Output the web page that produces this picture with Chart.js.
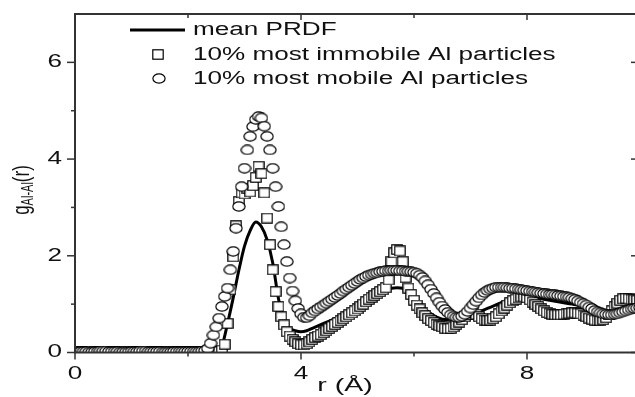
<!DOCTYPE html>
<html><head><meta charset="utf-8">
<script src="https://cdn.jsdelivr.net/npm/chart.js@4.4.1/dist/chart.umd.min.js"></script>
<style>html,body{margin:0;padding:0;background:#fff;overflow:hidden;width:635px;height:397px}canvas{display:block}</style>
</head><body>
<canvas id="c" width="650" height="397" style="width:650px;height:397px"></canvas>
<script>
// r grid of the marker series (Å), one row per 1 Å
const rMarkers = [
0.00,0.05,0.10,0.15,0.20,0.25,0.30,0.35,0.40,0.45,0.50,0.55,0.60,0.65,0.70,0.75,0.80,0.85,0.90,0.95,
1.00,1.05,1.10,1.15,1.20,1.25,1.30,1.35,1.40,1.45,1.50,1.55,1.60,1.65,1.70,1.75,1.80,1.85,1.90,1.95,
2.00,2.05,2.10,2.15,2.20,2.25,2.30,2.35,2.40,2.45,2.50,2.55,2.60,2.65,2.70,2.75,2.80,2.85,2.90,2.95,
3.00,3.05,3.10,3.15,3.20,3.25,3.30,3.35,3.40,3.45,3.50,3.55,3.60,3.65,3.70,3.75,3.80,3.85,3.90,3.95,
4.00,4.05,4.10,4.15,4.20,4.25,4.30,4.35,4.40,4.45,4.50,4.55,4.60,4.65,4.70,4.75,4.80,4.85,4.90,4.95,
5.00,5.05,5.10,5.15,5.20,5.25,5.30,5.35,5.40,5.45,5.50,5.55,5.60,5.65,5.70,5.75,5.80,5.85,5.90,5.95,
6.00,6.05,6.10,6.15,6.20,6.25,6.30,6.35,6.40,6.45,6.50,6.55,6.60,6.65,6.70,6.75,6.80,6.85,6.90,6.95,
7.00,7.05,7.10,7.15,7.20,7.25,7.30,7.35,7.40,7.45,7.50,7.55,7.60,7.65,7.70,7.75,7.80,7.85,7.90,7.95,
8.00,8.05,8.10,8.15,8.20,8.25,8.30,8.35,8.40,8.45,8.50,8.55,8.60,8.65,8.70,8.75,8.80,8.85,8.90,8.95,
9.00,9.05,9.10,9.15,9.20,9.25,9.30,9.35,9.40,9.45,9.50,9.55,9.60,9.65,9.70,9.75,9.80,9.85,9.90,9.95,10.00
];
// 10% most immobile Al particles (squares)
const immobile = [
0.02,0.02,0.01,0.01,0.02,0.02,0.03,0.02,0.02,0.01,0.01,0.02,0.02,0.02,0.03,0.03,0.02,0.01,0.01,0.02,
0.02,0.03,0.02,0.02,0.01,0.01,0.02,0.02,0.03,0.02,0.02,0.02,0.01,0.01,0.02,0.02,0.02,0.03,0.02,0.02,
0.02,0.02,0.01,0.01,0.02,0.02,0.02,0.01,0.01,0.02,0.02,0.02,0.05,0.17,0.60,1.30,1.98,2.62,3.12,3.30,
3.28,3.40,3.32,3.45,3.62,3.85,3.70,3.30,2.78,2.23,1.71,1.26,0.95,0.74,0.57,0.43,0.34,0.27,0.22,0.18,
0.16,0.16,0.18,0.22,0.27,0.31,0.34,0.37,0.41,0.45,0.50,0.54,0.58,0.62,0.66,0.70,0.74,0.78,0.82,0.86,
0.90,0.95,1.00,1.05,1.10,1.14,1.18,1.22,1.26,1.30,1.34,1.50,1.88,2.06,2.13,2.10,1.88,1.55,1.33,1.20,
1.08,0.98,0.90,0.82,0.76,0.70,0.66,0.62,0.58,0.55,0.53,0.50,0.49,0.50,0.53,0.58,0.63,0.68,0.74,0.79,
0.82,0.82,0.79,0.74,0.70,0.67,0.66,0.67,0.70,0.74,0.80,0.86,0.92,0.98,1.03,1.07,1.10,1.13,1.15,1.15,
1.13,1.09,1.04,0.99,0.95,0.90,0.86,0.83,0.81,0.79,0.78,0.78,0.78,0.79,0.80,0.81,0.82,0.82,0.81,0.80,
0.77,0.74,0.71,0.69,0.67,0.66,0.66,0.68,0.72,0.78,0.86,0.95,1.02,1.08,1.11,1.12,1.11,1.10,1.09,1.08,1.08
];
// 10% most mobile Al particles (circles)
const mobile = [
0.01,0.01,0.02,0.02,0.02,0.01,0.01,0.02,0.02,0.03,0.03,0.03,0.02,0.02,0.02,0.02,0.01,0.01,0.01,0.01,
0.02,0.02,0.02,0.03,0.03,0.03,0.02,0.02,0.02,0.02,0.02,0.01,0.01,0.01,0.01,0.02,0.02,0.02,0.02,0.02,
0.02,0.02,0.02,0.02,0.02,0.03,0.04,0.08,0.19,0.36,0.53,0.71,0.95,1.16,1.33,1.71,2.09,2.57,3.02,3.43,
3.81,4.19,4.47,4.67,4.82,4.88,4.85,4.68,4.47,4.19,3.81,3.43,3.02,2.60,2.23,1.88,1.54,1.27,1.07,0.91,
0.80,0.73,0.72,0.76,0.82,0.86,0.90,0.94,0.98,1.02,1.06,1.10,1.14,1.18,1.22,1.27,1.31,1.35,1.39,1.43,
1.47,1.51,1.54,1.57,1.60,1.62,1.64,1.65,1.67,1.68,1.69,1.69,1.70,1.70,1.70,1.69,1.69,1.68,1.68,1.67,
1.66,1.64,1.60,1.55,1.48,1.40,1.31,1.22,1.13,1.04,0.96,0.89,0.83,0.78,0.75,0.73,0.73,0.75,0.79,0.85,
0.92,0.99,1.06,1.13,1.19,1.24,1.28,1.31,1.33,1.35,1.35,1.35,1.35,1.34,1.33,1.33,1.32,1.31,1.30,1.29,
1.28,1.27,1.26,1.25,1.24,1.23,1.22,1.21,1.20,1.20,1.19,1.18,1.17,1.16,1.15,1.14,1.12,1.10,1.07,1.04,
1.01,0.98,0.94,0.91,0.87,0.84,0.82,0.80,0.79,0.78,0.78,0.79,0.80,0.82,0.84,0.86,0.88,0.90,0.91,0.92,0.93
];
// mean PRDF (line), r grid every 0.1 Å
const rLine = [
0.0,0.1,0.2,0.3,0.4,0.5,0.6,0.7,0.8,0.9,
1.0,1.1,1.2,1.3,1.4,1.5,1.6,1.7,1.8,1.9,
2.0,2.1,2.2,2.3,2.4,2.5,2.6,2.7,2.8,2.9,
3.0,3.1,3.2,3.3,3.4,3.5,3.6,3.7,3.8,3.9,
4.0,4.1,4.2,4.3,4.4,4.5,4.6,4.7,4.8,4.9,
5.0,5.1,5.2,5.3,5.4,5.5,5.6,5.7,5.8,5.9,
6.0,6.1,6.2,6.3,6.4,6.5,6.6,6.7,6.8,6.9,
7.0,7.1,7.2,7.3,7.4,7.5,7.6,7.7,7.8,7.9,
8.0,8.1,8.2,8.3,8.4,8.5,8.6,8.7,8.8,8.9,
9.0,9.1,9.2,9.3,9.4,9.5,9.6,9.7,9.8,9.9,10.0
];
const meanPRDF = [
0,0,0,0,0,0,0,0,0,0,
0,0,0,0,0,0,0,0,0,0,
0,0,0,0,0,0.01,0.13,0.60,1.13,1.70,
2.20,2.52,2.70,2.60,2.33,1.85,1.12,0.64,0.50,0.45,
0.43,0.45,0.50,0.55,0.60,0.65,0.70,0.75,0.82,0.89,
0.97,1.06,1.15,1.22,1.27,1.31,1.33,1.34,1.33,1.28,
1.17,1.02,0.90,0.80,0.73,0.69,0.68,0.69,0.71,0.74,
0.77,0.81,0.86,0.91,0.96,1.01,1.06,1.10,1.13,1.15,
1.15,1.14,1.12,1.10,1.08,1.06,1.04,1.02,1.00,0.98,
0.95,0.92,0.88,0.85,0.84,0.85,0.88,0.92,0.95,0.97,0.98
];
const xMajorTicks = [0, 4, 8];
const xMinorTicks = [2, 6, 10];
const yMajorTicks = [0, 2, 4, 6];
const yMinorTicks = [1, 3, 5];
const seriesNames = ['mean PRDF', '10% most immobile Al particles', '10% most mobile Al particles'];
const xTitle = 'r (Å)';
const yTitleMain = 'g', yTitleSub = 'Al-Al', yTitleTail = '(r)';

const FONT = '"Liberation Sans", Arial, sans-serif';
const SX = 1.45;

function makeSquare() {
  const c = document.createElement('canvas'); c.width = 12; c.height = 11;
  const g = c.getContext('2d');
  g.fillStyle = '#fff'; g.strokeStyle = '#000'; g.lineWidth = 1.2;
  g.fillRect(0.8, 0.8, 10.4, 9.4); g.strokeRect(0.8, 0.8, 10.4, 9.4);
  return c;
}
function makeEllipse() {
  const c = document.createElement('canvas'); c.width = 14; c.height = 11;
  const g = c.getContext('2d');
  g.fillStyle = '#fff'; g.strokeStyle = '#000'; g.lineWidth = 1.2;
  g.beginPath(); g.ellipse(7, 5.5, 6.1, 4.6, 0, 0, Math.PI * 2); g.fill(); g.stroke();
  return c;
}
const squareImg = makeSquare();
const circleImg = makeEllipse();

function sText(ctx, txt, x, y, size, align, base, sx) {
  ctx.save();
  ctx.translate(x, y); ctx.scale(sx, 1);
  ctx.font = size + 'px ' + FONT; ctx.textAlign = align; ctx.textBaseline = base;
  ctx.fillStyle = '#111';
  ctx.fillText(txt, 0, 0);
  ctx.restore();
}

const decor = {
  id: 'decor',
  afterDraw(chart) {
    const { ctx, chartArea: a, scales: { x, y } } = chart;
    ctx.save();
    // frame
    ctx.strokeStyle = '#333'; ctx.lineWidth = 2;
    ctx.strokeRect(a.left, a.top, a.right - a.left, a.bottom - a.top);
    // ticks
    ctx.lineWidth = 1.5; ctx.strokeStyle = '#333';
    const tk = (x1, y1, x2, y2) => { ctx.beginPath(); ctx.moveTo(x1, y1); ctx.lineTo(x2, y2); ctx.stroke(); };
    xMajorTicks.forEach(v => { const p = x.getPixelForValue(v); tk(p, a.bottom, p, a.bottom + 7); tk(p, a.top, p, a.top + 6); });
    xMinorTicks.forEach(v => { const p = x.getPixelForValue(v); tk(p, a.bottom, p, a.bottom + 4); tk(p, a.top, p, a.top + 4); });
    yMajorTicks.forEach(v => { const p = y.getPixelForValue(v); tk(a.left - 8, p, a.left, p); tk(a.right - 9, p, a.right, p); });
    yMinorTicks.forEach(v => { const p = y.getPixelForValue(v); tk(a.left - 4, p, a.left, p); tk(a.right - 5, p, a.right, p); });
    // tick labels
    yMajorTicks.forEach(v => sText(ctx, String(v), a.left - 13, y.getPixelForValue(v), 18, 'right', 'middle', SX));
    xMajorTicks.forEach(v => sText(ctx, String(v), x.getPixelForValue(v), a.bottom + 21.5, 18, 'center', 'middle', SX));
    // x title
    sText(ctx, xTitle, 345, 391, 19, 'center', 'alphabetic', 1.5);
    // y title (rotated, with subscript)
    ctx.save();
    ctx.fillStyle = '#111';
    const mainF = '17px ' + FONT, subF = '11px ' + FONT;
    ctx.font = mainF; const wg = ctx.measureText(yTitleMain).width; const wr = ctx.measureText(yTitleTail).width;
    ctx.font = subF; const ws = ctx.measureText(yTitleSub).width;
    const total = wg + ws + wr;
    ctx.translate(29, 190 + total / 2); ctx.scale(1.45, 1); ctx.rotate(-Math.PI / 2);
    ctx.textAlign = 'left'; ctx.textBaseline = 'alphabetic';
    ctx.font = mainF; ctx.fillText(yTitleMain, 0, 0);
    ctx.font = subF; ctx.fillText(yTitleSub, wg, 3);
    ctx.font = mainF; ctx.fillText(yTitleTail, wg + ws, 0);
    ctx.restore();
    // legend
    ctx.strokeStyle = '#000'; ctx.lineWidth = 3;
    tk(130, 30, 185, 30);
    ctx.drawImage(squareImg, Math.round(157.5 - squareImg.width / 2), Math.round(54.5 - squareImg.height / 2));
    ctx.drawImage(circleImg, Math.round(158.5 - circleImg.width / 2), Math.round(78 - circleImg.height / 2));
    sText(ctx, seriesNames[0], 193, 30.5, 18, 'left', 'middle', SX);
    sText(ctx, seriesNames[1], 193, 55.5, 18, 'left', 'middle', SX);
    sText(ctx, seriesNames[2], 193, 79, 18, 'left', 'middle', SX);
    ctx.restore();
  }
};

const toXY = (xs, ys) => xs.map((v, i) => ({ x: v, y: ys[i] }));

new Chart(document.getElementById('c'), {
  type: 'line',
  data: {
    datasets: [
      { label: seriesNames[0], data: toXY(rLine, meanPRDF), borderColor: '#000', borderWidth: 3,
        pointRadius: 0, cubicInterpolationMode: 'monotone', fill: false, order: 3, clip: 0 },
      { label: seriesNames[1], data: toXY(rMarkers, immobile), showLine: false, pointStyle: squareImg,
        pointRadius: 5, order: 2, clip: 0 },
      { label: seriesNames[2], data: toXY(rMarkers, mobile), showLine: false, pointStyle: circleImg,
        pointRadius: 5, order: 1, clip: 0 }
    ]
  },
  options: {
    responsive: false, animation: false, devicePixelRatio: 1,
    layout: { padding: { left: 75, top: 14, right: 10, bottom: 44.5 } },
    plugins: { legend: { display: false }, tooltip: { enabled: false } },
    scales: {
      x: { type: 'linear', min: 0, max: 10, display: false },
      y: { type: 'linear', min: 0, max: 7, display: false }
    }
  },
  plugins: [decor]
});
</script>
</body></html>
